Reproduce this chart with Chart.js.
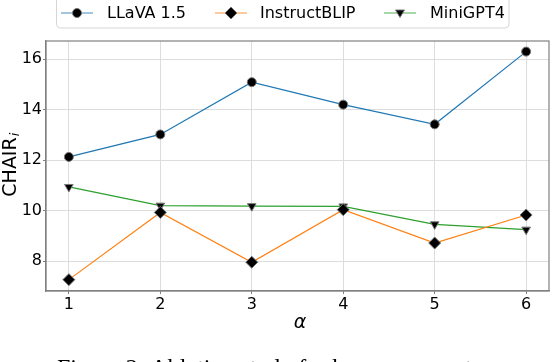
<!DOCTYPE html>
<html>
<head>
<meta charset="utf-8">
<script src="https://cdn.jsdelivr.net/npm/chart.js@4"></script>
<style>
  html, body { margin: 0; padding: 0; background: #fff; }
  #wrap { width: 556px; height: 362px; }
</style>
</head>
<body>
<div id="wrap"><canvas id="chairChart" width="556" height="362"></canvas></div>
<script>
// alpha values on x axis
const alphaValues = [1, 2, 3, 4, 5, 6];
// CHAIR_i per model
const llavaValues = [12.13, 13.02, 15.09, 14.2, 13.42, 16.3];
const instructblipValues = [7.27, 9.93, 7.96, 10.04, 8.72, 9.83];
const minigptValues = [10.94, 10.2, 10.18, 10.17, 9.46, 9.25];
const yTickValues = [8, 10, 12, 14, 16];
const seriesNames = ['LLaVA 1.5', 'InstructBLIP', 'MiniGPT4'];

const FONT = "'DejaVu Sans', sans-serif";
const colors = ['#1f77b4', '#ff7f0e', '#2ca02c'];

function toPoints(values) {
    return alphaValues.map((a, i) => ({ x: a, y: values[i] }));
}

// markers for the legend box (line + marker, like matplotlib)
function drawMarker(ctx, kind, x, y) {
    ctx.save();
    ctx.fillStyle = '#000';
    ctx.strokeStyle = '#777';
    ctx.lineWidth = 1;
    ctx.beginPath();
    if (kind === 'circle') {
        ctx.arc(x, y, 4.5, 0, Math.PI * 2);
    } else if (kind === 'diamond') {
        ctx.moveTo(x, y - 6); ctx.lineTo(x + 6, y); ctx.lineTo(x, y + 6); ctx.lineTo(x - 6, y);
        ctx.closePath();
    } else {
        ctx.moveTo(x - 4.5, y - 3); ctx.lineTo(x + 4.5, y - 3); ctx.lineTo(x, y + 4.5);
        ctx.closePath();
    }
    ctx.fill();
    ctx.stroke();
    ctx.restore();
}

const decorPlugin = {
    id: 'decor',
    afterDraw(chart) {
        const ctx = chart.ctx;
        const a = chart.chartArea;
        ctx.save();

        // frame on all four sides
        ctx.strokeStyle = '#808080';
        ctx.lineWidth = 1.2;
        ctx.strokeRect(a.left, a.top, a.right - a.left, a.bottom - a.top);

        // legend box
        ctx.fillStyle = 'rgba(255,255,255,0.9)';
        ctx.strokeStyle = '#d6d6d6';
        ctx.lineWidth = 1;
        ctx.beginPath();
        ctx.roundRect(56.5, -4, 452.5, 32, 4);
        ctx.fill();
        ctx.stroke();

        const items = [
            { lx: 61, tx: 107, marker: 'circle' },
            { lx: 215, tx: 260, marker: 'diamond' },
            { lx: 384, tx: 430, marker: 'triangle' }
        ];
        const ly = 13;
        items.forEach((it, i) => {
            ctx.strokeStyle = colors[i];
            ctx.globalAlpha = 0.55;
            ctx.lineWidth = 1.5;
            ctx.beginPath();
            ctx.moveTo(it.lx, ly);
            ctx.lineTo(it.lx + 32, ly);
            ctx.stroke();
            ctx.globalAlpha = 1;
            drawMarker(ctx, it.marker, it.lx + 16, ly);
            ctx.fillStyle = '#000';
            ctx.font = '16px ' + FONT;
            ctx.textAlign = 'left';
            ctx.textBaseline = 'middle';
            ctx.fillText(seriesNames[i], it.tx, ly + 1);
        });

        // y title: CHAIR with subscript i
        ctx.save();
        ctx.translate(16, 167);
        ctx.rotate(-Math.PI / 2);
        ctx.fillStyle = '#000';
        ctx.font = '19px ' + FONT;
        ctx.textAlign = 'center';
        ctx.textBaseline = 'alphabetic';
        ctx.fillText('CHAIR', 0, 0);
        const w = ctx.measureText('CHAIR').width;
        ctx.font = 'italic 13px ' + FONT;
        ctx.textAlign = 'left';
        ctx.fillText('i', w / 2 + 1, 3);
        ctx.restore();

        // x title
        ctx.fillStyle = '#000';
        ctx.font = 'italic 19px ' + FONT;
        ctx.textAlign = 'center';
        ctx.textBaseline = 'alphabetic';
        ctx.fillText('\u03b1', 300, 328);

        // caption, cut off at the bottom edge
        ctx.font = "24px 'Liberation Serif', serif";
        ctx.textAlign = 'left';
        ctx.fillText('Figure 2: Ablation study for hyper-parameter \u03b1.', 57, 375);

        ctx.restore();
    }
};

const markerStyles = ['circle', 'rectRot', 'triangle'];
const markerSizes = [4.5, 6, 5];
const datasets = [llavaValues, instructblipValues, minigptValues].map((vals, i) => ({
    label: seriesNames[i],
    data: toPoints(vals),
    borderColor: colors[i],
    borderWidth: 1.2,
    pointStyle: markerStyles[i],
    pointRadius: markerSizes[i],
    pointRotation: i === 2 ? 180 : 0,
    pointBackgroundColor: '#000',
    pointBorderColor: '#777',
    pointBorderWidth: 1,
    tension: 0
}));

new Chart(document.getElementById('chairChart'), {
    type: 'line',
    data: { datasets },
    options: {
        responsive: false,
        animation: false,
        layout: { padding: { top: 41, right: 3, left: 0, bottom: 0 } },
        plugins: {
            legend: { display: false },
            tooltip: { enabled: false }
        },
        scales: {
            x: {
                type: 'linear',
                min: 0.75,
                max: 6.25,
                afterBuildTicks: (scale) => { scale.ticks = alphaValues.map(v => ({ value: v })); },
                afterFit: (scale) => { scale.height = 71; },
                ticks: {
                    color: '#000',
                    font: { family: FONT, size: 16 },
                    padding: 1,
                    maxRotation: 0
                },
                grid: { color: '#dddddd', lineWidth: 1, tickLength: 3, tickColor: '#808080' },
                border: { color: '#808080', width: 1.2 }
            },
            y: {
                min: 6.82,
                max: 16.72,
                afterBuildTicks: (scale) => { scale.ticks = yTickValues.map(v => ({ value: v })); },
                afterFit: (scale) => { scale.width = 46; },
                ticks: {
                    color: '#000',
                    font: { family: FONT, size: 16 },
                    padding: 1
                },
                grid: { color: '#dddddd', lineWidth: 1, tickLength: 3, tickColor: '#808080' },
                border: { color: '#808080', width: 1.2 }
            }
        }
    },
    plugins: [decorPlugin]
});
</script>
</body>
</html>
